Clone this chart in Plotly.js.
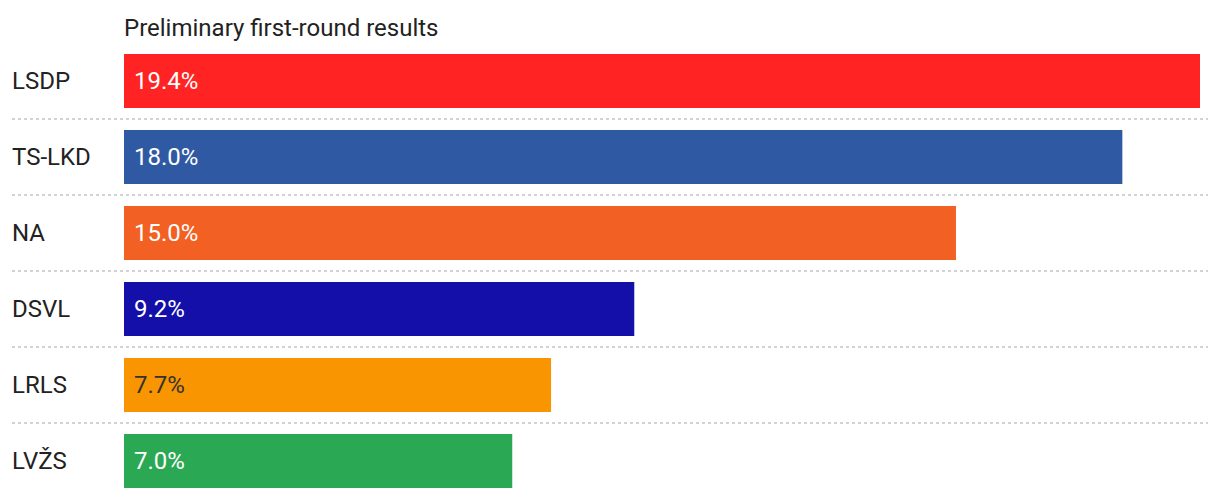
<!DOCTYPE html>
<html>
<head>
<meta charset="utf-8">
<script src="https://cdn.plot.ly/plotly-3.0.1.min.js"></script>
<style>html,body{margin:0;padding:0;background:#fff;}#chart{width:1220px;height:498px;}</style>
</head>
<body>
<div id="chart"></div>
<script>
const parties = ["LSDP", "TS-LKD", "NA", "DSVL", "LRLS", "LVŽS"];
const shares = [19.4, 18.0, 15.0, 9.2, 7.7, 7.0];
const labels = ["19.4%", "18.0%", "15.0%", "9.2%", "7.7%", "7.0%"];
const barColors = ["#ff2323", "#2f5aa3", "#f26024", "#130fa8", "#f99500", "#2aa853"];
const labelColors = ["#ffffff", "#ffffff", "#ffffff", "#ffffff", "#333333", "#ffffff"];
const titleText = "Preliminary first-round results";

const FONT = "Roboto, 'DejaVu Sans', sans-serif";
const W = 1220, L = 124, R = 20;
const plotW = W - L - R;
const px2paper = p => (p - L) / plotW;

const trace = {
  type: "bar",
  orientation: "h",
  y: parties,
  x: shares,
  marker: {color: barColors, line: {width: 0}},
  width: 54 / 76,
  hoverinfo: "none"
};

const annotations = [];
parties.forEach((p, i) => {
  annotations.push({
    x: 0, y: p, xref: "x", yref: "y",
    text: labels[i], showarrow: false,
    xanchor: "left", yanchor: "middle", xshift: 8,
    font: {family: FONT, size: 24, color: labelColors[i]}
  });
  annotations.push({
    x: px2paper(10), y: p, xref: "paper", yref: "y",
    text: p, showarrow: false,
    xanchor: "left", yanchor: "middle",
    font: {family: FONT, size: 24, color: "#222222"}
  });
});

const shapes = [];
for (let i = 0; i < parties.length - 1; i++) {
  shapes.push({
    type: "line", xref: "paper", yref: "y",
    x0: px2paper(12), x1: px2paper(1208), y0: i + 0.5, y1: i + 0.5,
    line: {color: "#d2d2d2", width: 2, dash: "dot"}
  });
}

const layout = {
  width: W, height: 498,
  margin: {l: L, r: R, t: 43, b: 0, pad: 0},
  paper_bgcolor: "#ffffff", plot_bgcolor: "#ffffff",
  showlegend: false,
  title: {
    text: titleText, xref: "paper", x: 0, xanchor: "left",
    yref: "container", y: 1 - 28 / 498, yanchor: "middle",
    font: {family: FONT, size: 24, color: "#222222"}
  },
  xaxis: {range: [0, 19.4], showgrid: false, zeroline: false, showticklabels: false, showline: false, fixedrange: true},
  yaxis: {type: "category", categoryorder: "array", categoryarray: parties,
          range: [5.487, -0.5], showgrid: false, zeroline: false, showticklabels: false, showline: false, fixedrange: true},
  annotations: annotations,
  shapes: shapes
};

Plotly.newPlot("chart", [trace], layout, {displayModeBar: false, staticPlot: true});
</script>
</body>
</html>
